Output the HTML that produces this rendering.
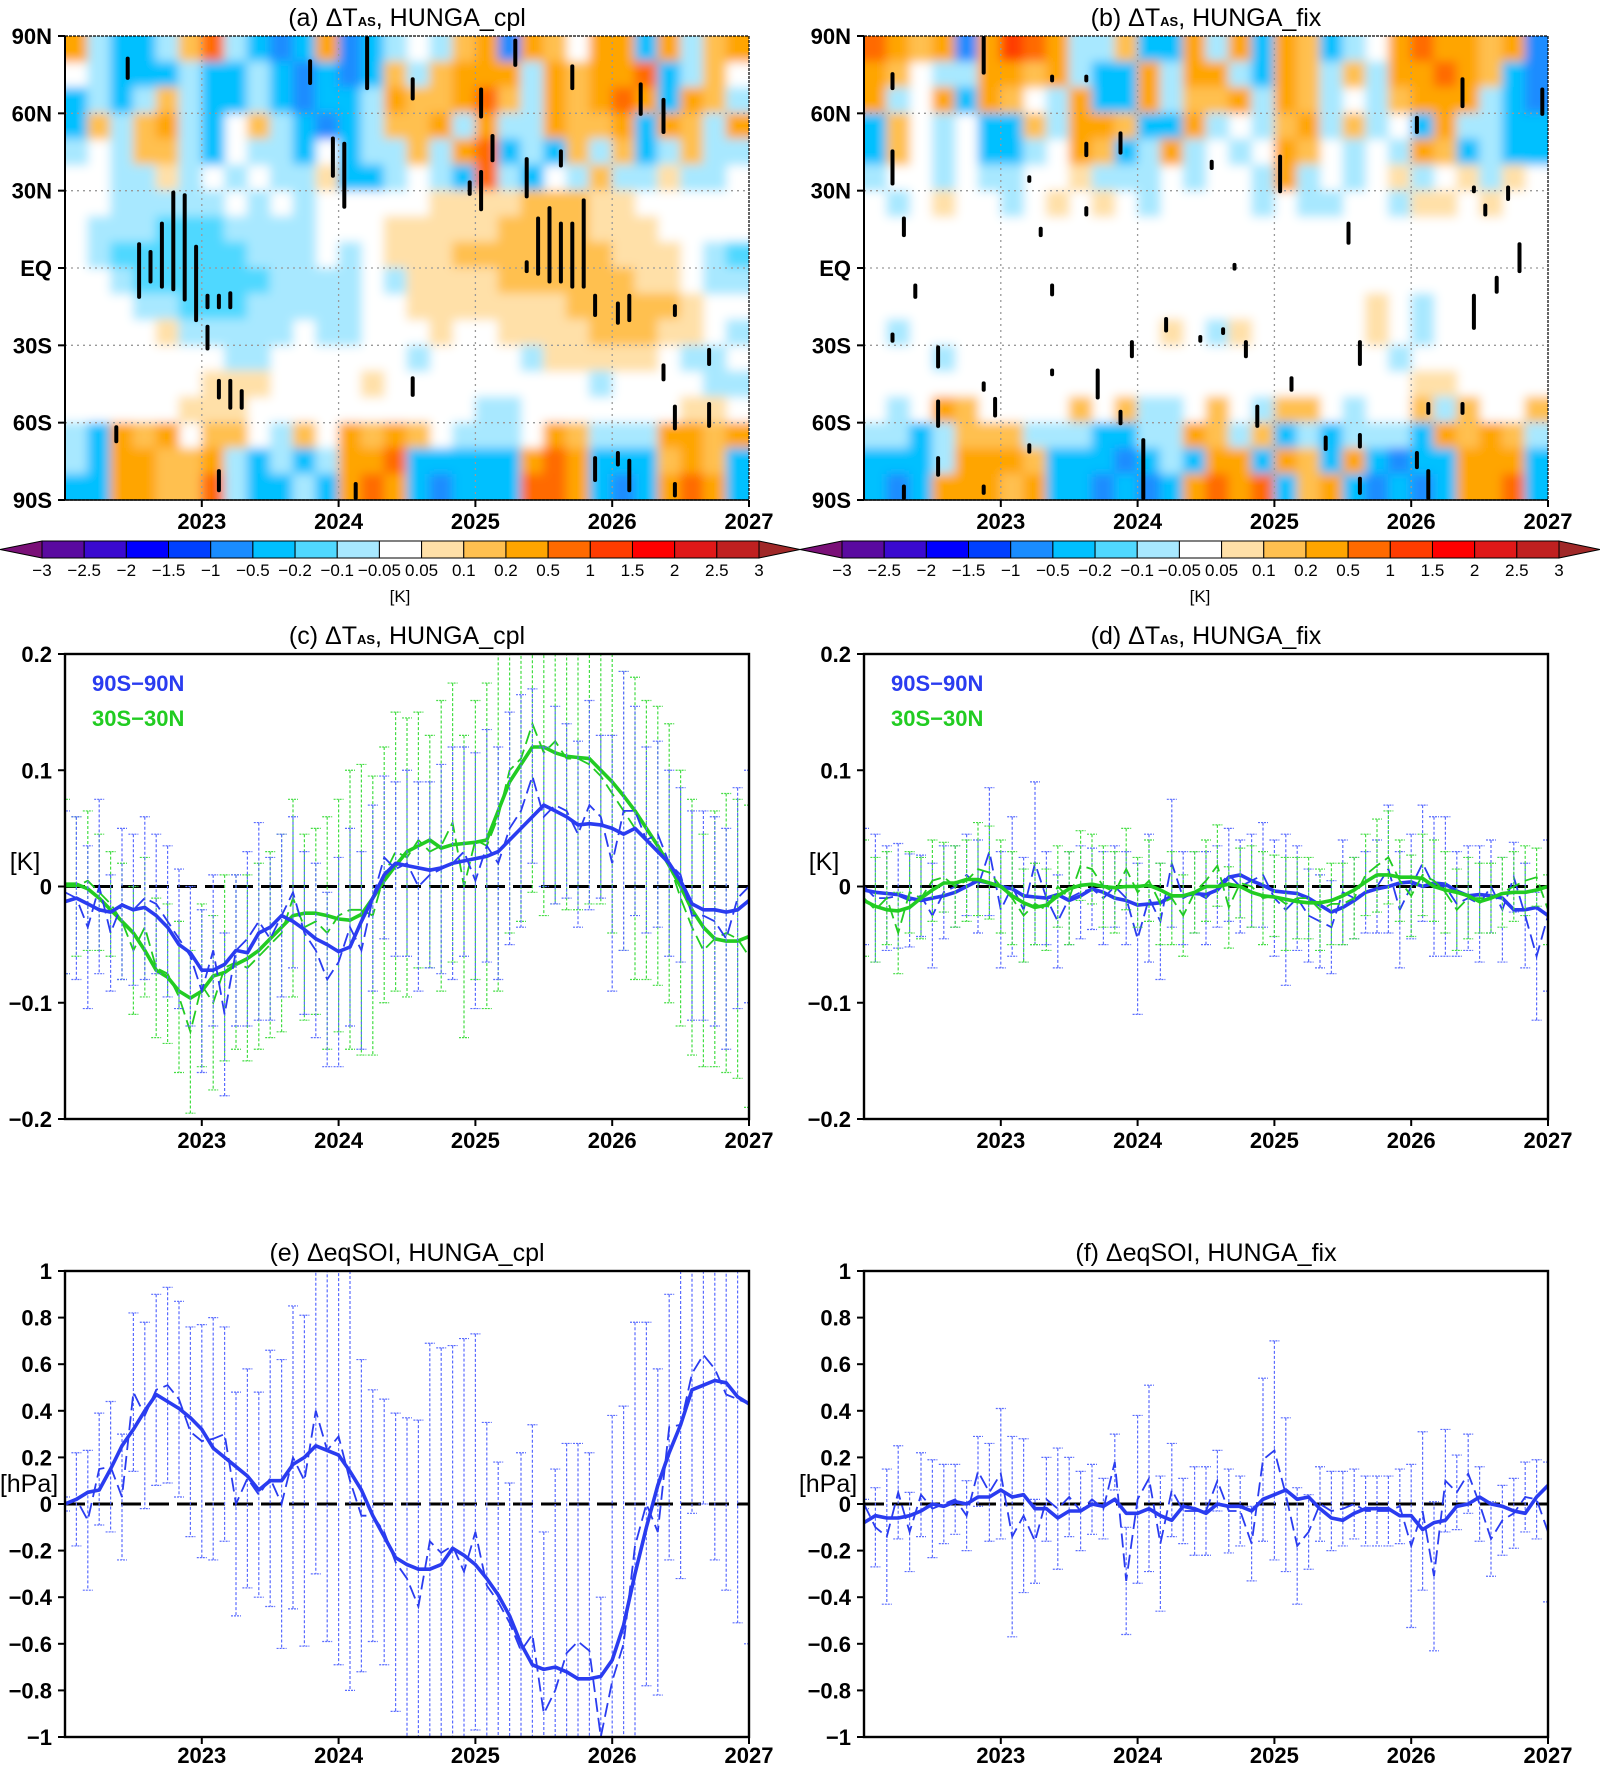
<!DOCTYPE html>
<html><head><meta charset="utf-8">
<style>
html,body{margin:0;padding:0;background:#fff;overflow:hidden;width:1600px;height:1766px;}
svg{display:block;}
text{font-family:"Liberation Sans",sans-serif;}
.tk{font-family:"Liberation Sans Narrow","Liberation Sans",sans-serif;font-weight:bold;font-size:22px;}
.ttl{font-size:25px;}
.cb{font-size:17px;}
</style></head>
<body>
<svg id="fig" width="1600" height="1766" viewBox="0 0 1600 1766" xmlns="http://www.w3.org/2000/svg">
<defs>
<filter id="soft" filterUnits="userSpaceOnUse" x="0" y="0" width="1600" height="600"><feGaussianBlur stdDeviation="5"/></filter>
<clipPath id="clipA"><rect x="65" y="36" width="684" height="464"/></clipPath>
<clipPath id="clipB"><rect x="864" y="36" width="684" height="464"/></clipPath>
<clipPath id="clipC"><rect x="65" y="654" width="684" height="465"/></clipPath>
<clipPath id="clipD"><rect x="864" y="654" width="684" height="465"/></clipPath>
<clipPath id="clipE"><rect x="65" y="1271" width="684" height="466"/></clipPath>
<clipPath id="clipF"><rect x="864" y="1271" width="684" height="466"/></clipPath>
</defs>
</svg>
<script>
// ---------------- DATA ----------------
const years = [2023, 2024, 2025, 2026, 2027];
const latTicks = ["90N","60N","30N","EQ","30S","60S","90S"];
const latTickVals = [90,60,30,0,-30,-60,-90];
const cbLabels = ["\u22123","\u22122.5","\u22122","\u22121.5","\u22121","\u22120.5","\u22120.2","\u22120.1","\u22120.05","0.05","0.1","0.2","0.5","1","1.5","2","2.5","3"];
const cbColors = ["#5a0aa0","#3a0ad0","#0000ff","#0040ff","#1a8cff","#00c0ff","#50d8ff","#a8e8ff","#ffffff","#ffe0a8","#ffc050","#ffa500","#ff6a00","#ff3c00","#ff0000","#e01818","#c02020"];
const levelColor = {"0":"#ffffff","A":"#a8e8ff","B":"#50d8ff","C":"#00c0ff","D":"#1a8cff","E":"#0040ff","a":"#ffe0a8","b":"#ffc050","c":"#ffa500","d":"#ff6a00","e":"#ff3c00"};
// heatmap (a) rows 85N..85S, 30 columns of 2 months each
const heatA = [
"cACCAbdACDCcDCA0AbcDcb0ccCcAbc",
"0ACCCACCACDCDCbAbcccAcbccdCAb0",
"CACAbACCACDCCAcbbcdbAcbcdcCcbA",
"CbAbcAC0bACDCAbbcAcAAcbbcCcbAc",
"A0AbbAC0AAC0CAAbAcdCACbAbCAbAA",
"00AAaA0A0AAaCCA0ACdAC0AbAAaAA0",
"00AAAAA0A0A00000aaaabbbaa00000",
"0AAABBBAAAA000aaaaabbbbaaa0000",
"0ABBBBBBAAA0A0aaabbbbbbbaaa0AB",
"00ABBBBBBAAAA0Aaaaabbbbbbaa0AA",
"000AABBBAAAAA00aaaaaaabbbbba00",
"0000aAAAAA0AA000a00aaaabbbaa0A",
"0000000AA000000A0000Aaaaaa0AA0",
"000000aaa0000a000000000A0000AA",
"00000aaa0000000000AA0000000aa0",
"ACcbc0bb0Ab0cbcb0AAA0cbAAAccbc",
"ACccbbcACACAccdCCCCCcdcCCCbcbC",
"CCccbbdACCACcdcCDCCCddcCDCcdcC"];
const heatB = [
"dcbcDcedcAAbCCcAcCcbCA0cdccbcD",
"cb0AAccbcACCcAccACcbAbAccdcbCD",
"cA0cCcb0AcCCcAbbcAcbA0AbcccACD",
"Cb0A0CCbAccbCCcA0AbcAbA0CcAACC",
"Cb0A0CCA0cbCAcA0A0cb0A0AcbCACC",
"A00A0AA00aAAA0A00AcA0A0aA0aAa0",
"0A0a00A0a0a0A0000A0AA00Aaa0a00",
"000000000000000000000000000000",
"000000000000000000000000000000",
"000000000000000000000000000000",
"0000000000000000000000a0A00000",
"0A00000000000a0Aa00000a0A00000",
"000A0000000000000000000A000000",
"000000000000000000000000aa0000",
"0A0cb0000b0bAA0b0Abb0A00bAb00b",
"AACAbbbAAACCAAcbAbCACAAACcbcbA",
"CCCAcccbCCCDCACccCcbCcCDCCcccC",
"CDCcccbcCCDCDCcdcdCbcCDCDCccdC"];
// significance stipples: [month, latTop, latBottom]
const stipA = [[5,82,73],[21,81,71],[26,90,69],[30,74,65],[23,51,35],[24,49,23],[36,70,58],[37,52,41],[39,89,78],[40,43,27],[44,79,69],[50,72,59],[52,66,52],[43,46,39],[35,34,28],[36,38,22],
[6,10,-12],[7,7,-6],[8,18,-8],[9,30,-9],[10,29,-13],[11,9,-21],[12,-10,-16],[12,-22,-32],[13,-10,-16],[14,-9,-16],
[40,3,-2],[41,20,-3],[42,24,-6],[43,18,-6],[44,18,-8],[45,27,-8],[46,-10,-19],[48,-13,-22],[49,-10,-21],[53,-14,-19],
[13,-43,-51],[14,-43,-55],[15,-47,-55],[30,-42,-50],[52,-37,-44],[56,-31,-38],[53,-53,-63],[56,-52,-62],[46,-73,-83],[48,-71,-77],[49,-74,-87],[53,-83,-89],[25,-83,-90],[13,-78,-87],[4,-61,-68]];
const stipB = [[2,76,69],[2,46,32],[10,90,75],[16,75,72],[19,75,72],[22,53,44],[19,49,43],[14,36,33],[30,42,38],[36,44,29],[52,74,62],[59,70,59],[48,59,52],[53,32,29],[56,32,26],[54,25,20],
[3,20,12],[4,-6,-12],[16,-6,-11],[19,24,20],[15,16,12],[26,-19,-25],[29,-26,-29],[31,-23,-26],[32,2,-1],[33,-28,-35],[23,-28,-35],[20,-39,-51],[16,-39,-42],[10,-44,-48],[11,-50,-58],[6,-30,-39],[2,-25,-29],[37,-42,-48],[42,18,9],[43,-28,-38],[57,10,-2],[55,-3,-10],[53,-10,-24],[34,-53,-62],[49,-52,-57],[52,-52,-57],
[6,-51,-62],[6,-73,-81],[3,-84,-90],[10,-84,-88],[14,-68,-72],[24,-66,-90],[40,-65,-71],[43,-64,-70],[43,-81,-88],[48,-71,-78],[49,-78,-90],[22,-55,-61]];

// (c) HUNGA_cpl temperature
const c_blueSmooth = [-0.013,-0.01,-0.015,-0.02,-0.022,-0.016,-0.02,-0.018,-0.025,-0.035,-0.05,-0.057,-0.072,-0.072,-0.067,-0.055,-0.057,-0.04,-0.035,-0.025,-0.03,-0.037,-0.045,-0.05,-0.056,-0.052,-0.03,-0.01,0.01,0.02,0.018,0.016,0.014,0.016,0.02,0.022,0.024,0.026,0.03,0.04,0.05,0.06,0.07,0.065,0.06,0.053,0.054,0.053,0.05,0.045,0.05,0.04,0.03,0.02,0.005,-0.015,-0.02,-0.02,-0.022,-0.02,-0.012];
const c_blueMonthly = [-0.005,-0.01,-0.035,0.0,-0.04,-0.015,-0.02,-0.01,-0.015,-0.03,-0.045,-0.06,-0.09,-0.055,-0.11,-0.055,-0.045,-0.03,-0.045,-0.025,-0.005,-0.04,-0.055,-0.08,-0.065,-0.035,-0.055,-0.01,0.025,0.015,0.02,0.0,0.01,0.015,0.02,0.03,0.005,0.035,0.02,0.05,0.065,0.095,0.06,0.07,0.065,0.045,0.07,0.06,0.02,0.065,0.065,0.04,0.045,0.02,0.01,-0.025,-0.025,-0.03,-0.045,-0.01,0.0];
const c_blueErr = [0.07,0.07,0.07,0.075,0.05,0.065,0.065,0.07,0.06,0.065,0.06,0.06,0.07,0.065,0.07,0.065,0.075,0.085,0.07,0.07,0.065,0.07,0.075,0.075,0.09,0.085,0.085,0.08,0.07,0.075,0.08,0.09,0.08,0.09,0.1,0.09,0.11,0.1,0.1,0.1,0.1,0.075,0.06,0.085,0.075,0.08,0.09,0.07,0.11,0.12,0.09,0.08,0.08,0.08,0.075,0.09,0.09,0.09,0.095,0.095,0.1];
const c_greenSmooth = [0.002,0.002,-0.002,-0.01,-0.02,-0.03,-0.04,-0.055,-0.072,-0.078,-0.09,-0.096,-0.09,-0.077,-0.074,-0.067,-0.062,-0.055,-0.045,-0.035,-0.025,-0.023,-0.023,-0.025,-0.028,-0.029,-0.024,-0.01,0.005,0.018,0.03,0.035,0.04,0.033,0.036,0.037,0.038,0.04,0.065,0.09,0.105,0.12,0.12,0.115,0.112,0.111,0.11,0.1,0.09,0.078,0.065,0.05,0.035,0.018,0.0,-0.02,-0.035,-0.045,-0.047,-0.047,-0.043];
const c_greenMonthly = [0.0,0.0,0.005,-0.005,-0.015,-0.03,-0.055,-0.035,-0.07,-0.075,-0.095,-0.125,-0.085,-0.1,-0.07,-0.065,-0.07,-0.06,-0.05,-0.04,-0.01,-0.035,-0.03,-0.04,-0.025,-0.02,-0.02,-0.025,0.01,0.03,0.025,0.04,0.03,0.035,0.055,0.0,0.04,0.035,0.06,0.1,0.11,0.14,0.115,0.125,0.11,0.11,0.105,0.095,0.08,0.065,0.05,0.04,0.035,0.02,-0.01,-0.035,-0.055,-0.045,-0.04,-0.045,-0.06];
const c_greenErr = [0.075,0.06,0.06,0.05,0.045,0.05,0.055,0.06,0.06,0.06,0.065,0.07,0.07,0.075,0.08,0.075,0.08,0.08,0.08,0.085,0.085,0.08,0.08,0.1,0.1,0.12,0.125,0.12,0.11,0.12,0.12,0.11,0.1,0.125,0.12,0.13,0.12,0.14,0.15,0.14,0.14,0.145,0.14,0.14,0.13,0.13,0.12,0.11,0.12,0.12,0.13,0.12,0.12,0.12,0.11,0.11,0.1,0.11,0.12,0.12,0.13];

// (d) HUNGA_fix temperature
const d_blueSmooth = [-0.003,-0.005,-0.006,-0.007,-0.01,-0.012,-0.01,-0.008,-0.005,0.0,0.005,0.003,0.0,-0.002,-0.008,-0.009,-0.01,-0.007,-0.012,-0.008,-0.002,-0.005,-0.01,-0.012,-0.016,-0.015,-0.014,-0.008,-0.008,-0.006,-0.007,-0.003,0.008,0.01,0.005,0.001,-0.004,-0.005,-0.006,-0.01,-0.016,-0.022,-0.018,-0.012,-0.005,-0.002,0.0,0.003,0.004,0.0,0.003,0.002,-0.004,-0.008,-0.007,-0.008,-0.01,-0.02,-0.02,-0.018,-0.025];
const d_blueMonthly = [0,-0.01,-0.01,-0.008,-0.012,-0.008,-0.025,-0.005,0.0,0.01,0.0,0.03,-0.02,0.0,-0.02,0.02,-0.01,-0.03,-0.01,-0.005,-0.002,-0.01,0.0,-0.01,-0.045,-0.01,-0.03,0.02,-0.01,-0.005,-0.01,0.0,0.01,0.0,0.005,0.01,-0.01,-0.02,-0.01,-0.025,-0.03,-0.035,-0.005,-0.01,-0.005,0.0,0.015,-0.02,0.0,0.02,0.0,0.0,-0.015,-0.01,-0.015,0.0,-0.02,0.008,-0.025,-0.06,-0.025];
const d_blueErr = [0.05,0.055,0.045,0.045,0.04,0.035,0.045,0.04,0.035,0.035,0.04,0.055,0.05,0.06,0.045,0.07,0.04,0.04,0.04,0.04,0.035,0.04,0.035,0.04,0.065,0.055,0.05,0.055,0.04,0.035,0.04,0.035,0.04,0.04,0.04,0.045,0.05,0.065,0.045,0.04,0.04,0.04,0.045,0.035,0.035,0.04,0.055,0.05,0.045,0.05,0.06,0.06,0.045,0.045,0.05,0.04,0.045,0.03,0.045,0.055,0.065];
const d_greenSmooth = [-0.012,-0.017,-0.02,-0.021,-0.018,-0.01,-0.003,0.003,0.003,0.006,0.006,0.003,0.0,-0.008,-0.014,-0.018,-0.016,-0.008,-0.002,0.001,0.002,0.0,-0.001,0.0,0.0,0.001,-0.003,-0.008,-0.008,-0.005,0.0,0.0,0.002,0.0,-0.005,-0.008,-0.009,-0.011,-0.013,-0.014,-0.014,-0.012,-0.008,-0.003,0.004,0.01,0.01,0.008,0.008,0.007,0.0,-0.003,-0.005,-0.008,-0.013,-0.01,-0.006,-0.005,-0.005,-0.003,0.0];
const d_greenMonthly = [-0.01,-0.02,-0.01,-0.04,-0.005,-0.01,0.005,0.008,0.0,0.005,0.015,0.012,0.0,-0.01,-0.025,-0.015,-0.02,0.0,-0.01,0.018,0.015,0.0,-0.005,0.015,-0.005,0.005,-0.015,-0.01,-0.025,-0.005,0.005,0.018,-0.018,0.003,0.0,-0.01,-0.008,-0.015,-0.01,-0.01,-0.02,-0.015,-0.015,-0.01,0.01,0.018,0.025,0.005,-0.008,0.01,0.005,-0.005,-0.02,-0.01,-0.01,-0.01,-0.005,0.0,0.005,0.008,-0.02];
const d_greenErr = [0.05,0.045,0.04,0.035,0.035,0.035,0.035,0.03,0.035,0.035,0.04,0.04,0.04,0.04,0.04,0.035,0.035,0.035,0.04,0.03,0.03,0.035,0.035,0.035,0.03,0.035,0.035,0.04,0.035,0.035,0.035,0.035,0.035,0.03,0.035,0.04,0.035,0.04,0.035,0.035,0.035,0.035,0.035,0.035,0.035,0.04,0.04,0.035,0.035,0.035,0.035,0.035,0.035,0.035,0.03,0.03,0.03,0.03,0.03,0.025,0.03];

// (e) HUNGA_cpl eqSOI
const e_smooth = [0.0,0.02,0.05,0.06,0.15,0.25,0.32,0.4,0.47,0.44,0.41,0.37,0.32,0.24,0.2,0.16,0.12,0.06,0.1,0.1,0.17,0.2,0.25,0.23,0.21,0.14,0.06,-0.05,-0.14,-0.23,-0.26,-0.28,-0.28,-0.26,-0.19,-0.22,-0.26,-0.32,-0.39,-0.48,-0.6,-0.69,-0.71,-0.7,-0.72,-0.75,-0.75,-0.74,-0.67,-0.52,-0.3,-0.1,0.08,0.22,0.34,0.49,0.51,0.53,0.52,0.46,0.43];
const e_monthly = [0.0,0.02,-0.07,0.15,0.16,0.03,0.48,0.38,0.49,0.51,0.45,0.31,0.27,0.28,0.3,0.0,0.11,0.04,0.11,0.0,0.2,0.1,0.4,0.23,0.29,0.1,-0.05,-0.05,-0.12,-0.25,-0.32,-0.44,-0.16,-0.21,-0.18,-0.29,-0.12,-0.35,-0.42,-0.51,-0.63,-0.56,-0.9,-0.8,-0.64,-0.59,-0.63,-1.0,-0.76,-0.6,-0.18,0.0,-0.12,0.33,0.34,0.56,0.64,0.58,0.47,0.45,0.43];
const e_err = [0.03,0.2,0.3,0.24,0.28,0.27,0.34,0.4,0.41,0.42,0.42,0.45,0.5,0.52,0.46,0.48,0.47,0.44,0.55,0.62,0.65,0.71,0.7,0.82,0.98,0.9,0.67,0.54,0.57,0.64,0.69,0.8,0.85,0.88,0.86,1.0,0.85,0.7,0.6,0.6,0.85,0.9,0.78,0.95,0.9,0.85,0.85,0.6,1.14,1.02,0.96,0.78,0.7,0.57,0.66,0.6,0.64,0.82,0.84,0.96,1.03];

// (f) HUNGA_fix eqSOI
const f_smooth = [-0.08,-0.05,-0.06,-0.06,-0.05,-0.03,0.0,-0.01,0.01,0.0,0.03,0.03,0.06,0.03,0.04,-0.02,-0.02,-0.06,-0.03,-0.03,0.0,-0.01,0.02,-0.04,-0.04,-0.02,-0.05,-0.07,-0.01,-0.02,-0.04,0.0,-0.01,-0.01,-0.03,0.02,0.04,0.06,0.02,0.03,-0.02,-0.06,-0.07,-0.04,-0.02,-0.02,-0.02,-0.05,-0.05,-0.11,-0.08,-0.07,-0.01,0.0,0.03,0.0,-0.01,-0.03,-0.04,0.03,0.08];
const f_monthly = [0.0,-0.1,-0.14,0.05,-0.12,0.04,-0.02,0.0,0.02,-0.05,0.14,0.05,0.13,-0.14,-0.05,-0.16,0.02,-0.02,0.03,-0.03,0.02,-0.02,0.18,-0.33,0.02,0.11,-0.17,0.06,-0.03,-0.03,-0.03,0.1,-0.03,-0.03,-0.17,0.19,0.23,0.04,-0.18,-0.12,0.0,-0.03,-0.02,0.0,-0.03,-0.03,-0.03,-0.01,-0.18,-0.03,-0.31,0.1,0.05,0.13,0.0,-0.15,-0.07,-0.04,0.03,0.02,-0.12];
const f_err = [0.02,0.17,0.29,0.2,0.17,0.18,0.21,0.17,0.15,0.15,0.15,0.21,0.28,0.43,0.33,0.18,0.18,0.26,0.17,0.17,0.15,0.13,0.12,0.23,0.36,0.4,0.29,0.2,0.14,0.19,0.19,0.13,0.18,0.15,0.16,0.35,0.47,0.33,0.25,0.16,0.16,0.17,0.16,0.15,0.15,0.15,0.15,0.16,0.35,0.34,0.32,0.22,0.16,0.17,0.16,0.16,0.15,0.15,0.15,0.17,0.3];

// ---------------- DRAWING ----------------
const NS = "http://www.w3.org/2000/svg";
const svg = document.getElementById("fig");
function mk(tag, attrs, parent){
  const el = document.createElementNS(NS, tag);
  for (const k in attrs) el.setAttribute(k, attrs[k]);
  (parent || svg).appendChild(el);
  return el;
}
function txt(x, y, s, cls, anchor, parent){
  const t = mk("text", {x:x, y:y, "class":cls, "text-anchor":anchor||"middle"}, parent);
  t.textContent = s;
  return t;
}
function xOf(P, m){ return P.x0 + m/60*(P.x1-P.x0); }
function yOf(P, v){ return P.y1 - (v-P.vmin)/(P.vmax-P.vmin)*(P.y1-P.y0); }
function yearX(P, yr){ return xOf(P, (yr-2022)*12); }

function title(P, lead, sub, tail){
  const t = mk("text", {x:(P.x0+P.x1)/2, y:P.y0-10, "class":"ttl", "text-anchor":"middle"});
  
  
  t.appendChild(document.createTextNode(lead));
  if (sub){
    const s = document.createElementNS(NS, "tspan");
    s.setAttribute("font-size","13"); s.setAttribute("font-weight","bold");
    s.textContent = sub; t.appendChild(s);
    const r = document.createElementNS(NS, "tspan");
    r.textContent = tail; t.appendChild(r);
  }
}
function yearAxis(P, g, lift){
  years.forEach(yr=>{
    const x = yearX(P, yr);
    mk("line",{x1:x,y1:P.y1,x2:x,y2:P.y1+7,stroke:"#000","stroke-width":2},g);
    const t = txt(x, P.y1+29-(lift||0), String(yr), "tk", "middle", g);
    
    
  });
}

// ---------- heatmaps ----------
function heatPanel(P, rows, stip, clip, name){
  const g = mk("g", {});
  
  
  const hg = mk("g", {"clip-path":"url(#"+clip+")"}, g);
  mk("rect",{x:P.x0,y:P.y0,width:P.x1-P.x0,height:P.y1-P.y0,fill:"#fff"},hg);
  const hi = mk("g", {filter:"url(#soft)"}, hg);
  const nr = rows.length, nc = rows[0].length;
  const cw = (P.x1-P.x0)/nc, rh = (P.y1-P.y0)/nr;
  mk("rect",{x:P.x0-20,y:P.y0-20,width:P.x1-P.x0+40,height:P.y1-P.y0+40,fill:"#fff"},hi);
  rows.forEach((row, r)=>{
    for (let c=0;c<nc;c++){
      const col = levelColor[row[c]] || "#fff";
      if (col === "#ffffff") continue;
      const ext = (c===0?12:0), extR = (c===nc-1?12:0), extT = (r===0?12:0), extB = (r===nr-1?12:0);
      const cell = mk("rect",{x:P.x0+c*cw-0.5-ext,y:P.y0+r*rh-0.5-extT,width:cw+1+ext+extR,height:rh+1+extT+extB,fill:col},hi);
      
      
    }
  });
  // grid
  [60,30,0,-30,-60].forEach(l=>{
    const y = yOf(P,l);
    mk("line",{x1:P.x0,y1:y,x2:P.x1,y2:y,stroke:"#999","stroke-width":1.3,"stroke-dasharray":"2,4"},hg);
  });
  [2023,2024,2025,2026].forEach(yr=>{
    const x = yearX(P,yr);
    mk("line",{x1:x,y1:P.y0,x2:x,y2:P.y1,stroke:"#999","stroke-width":1.3,"stroke-dasharray":"2,4"},hg);
  });
  // stipples
  stip.forEach(s=>{
    const x = xOf(P, s[0]+0.5);
    const b = mk("line",{x1:x,y1:yOf(P,s[1])+2,x2:x,y2:yOf(P,s[2])-2,stroke:"#000","stroke-width":4,"stroke-linecap":"round"},hg);
    
    
  });
  mk("rect",{x:P.x0,y:P.y0,width:P.x1-P.x0,height:P.y1-P.y0,fill:"none",stroke:"#000","stroke-width":1.2,"stroke-dasharray":"3,1"},g);
  mk("line",{x1:P.x0,y1:P.y0,x2:P.x0,y2:P.y1,stroke:"#000","stroke-width":2},g);
  mk("line",{x1:P.x0,y1:P.y1,x2:P.x1,y2:P.y1,stroke:"#000","stroke-width":1.5},g);
  latTicks.forEach((lab,i)=>{
    const y = yOf(P, latTickVals[i]);
    mk("line",{x1:P.x0-7,y1:y,x2:P.x0,y2:y,stroke:"#000","stroke-width":2},g);
    const t = txt(P.x0-13, y+8, lab, "tk", "end", g);
    
    
  });
  yearAxis(P, g);
}
function colorbar(x0, name){
  const g = mk("g",{});
  
  
  const bx0 = x0+42, bx1 = x0+759, y0 = 541, y1 = 558;
  const w = (bx1-bx0)/cbColors.length;
  mk("polygon",{points:`${x0},${(y0+y1)/2} ${bx0},${y0} ${bx0},${y1}`,fill:"#7a1078",stroke:"#000","stroke-width":1},g);
  mk("polygon",{points:`${x0+800},${(y0+y1)/2} ${bx1},${y0} ${bx1},${y1}`,fill:"#a02828",stroke:"#000","stroke-width":1},g);
  cbColors.forEach((c,i)=>{
    const r = mk("rect",{x:bx0+i*w,y:y0,width:w,height:y1-y0,fill:c,stroke:"#000","stroke-width":1},g);
    
    
  });
  cbLabels.forEach((l,i)=>{
    const t = txt(bx0+i*w, 576, l, "cb", "middle", g);
    
    
  });
  const u = txt(x0+400, 602, "[K]", "cb", "middle", g);
  
  
}

const PA = {x0:65,x1:749,y0:36,y1:500,vmin:-90,vmax:90};
const PB = {x0:864,x1:1548,y0:36,y1:500,vmin:-90,vmax:90};
heatPanel(PA, heatA, stipA, "clipA", "heatmap-a");
heatPanel(PB, heatB, stipB, "clipB", "heatmap-b");
title(PA, "(a)  \u0394T", "AS", ",  HUNGA_cpl");
title(PB, "(b)  \u0394T", "AS", ",  HUNGA_fix");
colorbar(0, "colorbar-a");
colorbar(800, "colorbar-b");

// ---------- line panels ----------
function series(P, g, smooth, monthly, err, color, barColor, nameKey){
  monthly.forEach((v,i)=>{
    const x = xOf(P,i), yt = yOf(P, v+err[i]), yb = yOf(P, v-err[i]);
    const b = mk("line",{x1:x,y1:yt,x2:x,y2:yb,stroke:barColor,"stroke-width":1.2,"stroke-dasharray":"3,2"},g);
    
    
    mk("line",{x1:x-5,y1:yt,x2:x+5,y2:yt,stroke:barColor,"stroke-width":1.2,"stroke-dasharray":"2,1"},g);
    mk("line",{x1:x-5,y1:yb,x2:x+5,y2:yb,stroke:barColor,"stroke-width":1.2,"stroke-dasharray":"2,1"},g);
  });
  const pm = monthly.map((v,i)=>xOf(P,i).toFixed(1)+","+yOf(P,v).toFixed(1)).join(" ");
  const l1 = mk("polyline",{points:pm,fill:"none",stroke:color,"stroke-width":1.8,"stroke-dasharray":"14,6"},g);
  
  
  const ps = smooth.map((v,i)=>xOf(P,i).toFixed(1)+","+yOf(P,v).toFixed(1)).join(" ");
  const l2 = mk("polyline",{points:ps,fill:"none",stroke:color,"stroke-width":3.6,"stroke-linejoin":"round"},g);
  
  
}
function linePanel(P, clip, name, ticks, tickLabels, unit, unitY, lift, draw){
  const g = mk("g",{});
  
  
  const inner = mk("g",{"clip-path":"url(#"+clip+")"},g);
  mk("line",{x1:P.x0,y1:yOf(P,0),x2:P.x1,y2:yOf(P,0),stroke:"#000","stroke-width":3,"stroke-dasharray":"20,8"},inner);
  draw(inner);
  mk("rect",{x:P.x0,y:P.y0,width:P.x1-P.x0,height:P.y1-P.y0,fill:"none",stroke:"#000","stroke-width":2.4},g);
  ticks.forEach((v,i)=>{
    const y = yOf(P,v);
    mk("line",{x1:P.x0-7,y1:y,x2:P.x0,y2:y,stroke:"#000","stroke-width":2},g);
    const t = txt(P.x0-13, y+8, tickLabels[i], "tk", "end", g);
    
    
  });
  const u = mk("text",{x:P.x0-(unit.length>3?36:40),y:unitY,"class":"ttl","text-anchor":"middle","font-size":"23"},g);
  u.textContent = unit;
  
  
  yearAxis(P, g, lift);
  return g;
}
const tTicks = [0.2,0.1,0,-0.1,-0.2];
const tTickLabels = ["0.2","0.1","0","\u22120.1","\u22120.2"];
const sTicks = [1,0.8,0.6,0.4,0.2,0,-0.2,-0.4,-0.6,-0.8,-1];
const sTickLabels = ["1","0.8","0.6","0.4","0.2","0","\u22120.2","\u22120.4","\u22120.6","\u22120.8","\u22121"];

const BLUE = "#2a3cf0", BLUEBAR = "#5a6cff", GREEN = "#22cc22", GREENBAR = "#44dd44";
function legend(P, g){
  const a = txt(P.x0+27, P.y0+37, "90S\u221290N", "tk", "start", g);
  a.setAttribute("fill", BLUE);
  
  
  const b = txt(P.x0+27, P.y0+72, "30S\u221230N", "tk", "start", g);
  b.setAttribute("fill", GREEN);
  
  
}
const PC = {x0:65,x1:749,y0:654,y1:1119,vmin:-0.2,vmax:0.2};
const PD = {x0:864,x1:1548,y0:654,y1:1119,vmin:-0.2,vmax:0.2};
const PE = {x0:65,x1:749,y0:1271,y1:1737,vmin:-1,vmax:1};
const PF = {x0:864,x1:1548,y0:1271,y1:1737,vmin:-1,vmax:1};

const gC = linePanel(PC,"clipC","timeseries-c",tTicks,tTickLabels,"[K]",870,0,g=>{
  series(PC,g,c_greenSmooth,c_greenMonthly,c_greenErr,GREEN,GREENBAR,"tropics");
  series(PC,g,c_blueSmooth,c_blueMonthly,c_blueErr,BLUE,BLUEBAR,"global");
});
legend(PC, gC);
title(PC, "(c)  \u0394T", "AS", ",  HUNGA_cpl");
const gD = linePanel(PD,"clipD","timeseries-d",tTicks,tTickLabels,"[K]",870,0,g=>{
  series(PD,g,d_blueSmooth,d_blueMonthly,d_blueErr,BLUE,BLUEBAR,"global");
  series(PD,g,d_greenSmooth,d_greenMonthly,d_greenErr,GREEN,GREENBAR,"tropics");
});
legend(PD, gD);
title(PD, "(d)  \u0394T", "AS", ",  HUNGA_fix");
linePanel(PE,"clipE","timeseries-e",sTicks,sTickLabels,"[hPa]",1492,3,g=>{
  series(PE,g,e_smooth,e_monthly,e_err,BLUE,BLUEBAR,"eqsoi");
});
title(PE, "(e)  \u0394eqSOI,  HUNGA_cpl");
linePanel(PF,"clipF","timeseries-f",sTicks,sTickLabels,"[hPa]",1492,3,g=>{
  series(PF,g,f_smooth,f_monthly,f_err,BLUE,BLUEBAR,"eqsoi");
});
title(PF, "(f)  \u0394eqSOI,  HUNGA_fix");
</script>
</body></html>
